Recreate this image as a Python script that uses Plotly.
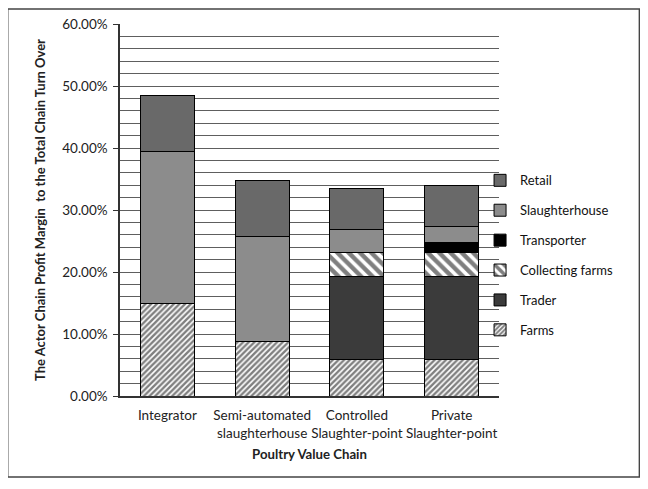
import plotly.graph_objects as go

# poultry value chains on the x axis
chains = ["Integrator", "Semi-automated<br>slaughterhouse",
          "Controlled<br>Slaughter-point", "Private<br>Slaughter-point"]

# profit margin share (%) of each actor, bottom to top of the stack
farms = [15.0, 8.8, 5.9, 5.9]
trader = [0.0, 0.0, 13.35, 13.35]
collecting_farms = [0.0, 0.0, 3.95, 3.95]
transporter = [0.0, 0.0, 0.0, 1.5]
slaughterhouse = [24.4, 16.9, 3.7, 2.7]
retail = [9.1, 9.0, 6.6, 6.6]

y_ticks = [0, 10, 20, 30, 40, 50, 60]

font = "Lato, 'Open Sans', sans-serif"

fig = go.Figure()

def add_bar(name, values, color, rank, pattern=None):
    marker = dict(color=color, line=dict(color="black", width=1))
    if pattern:
        marker["pattern"] = pattern
    fig.add_trace(go.Bar(x=chains, y=values, name=name, marker=marker,
                         legendgroup=name, legendrank=rank))

add_bar("Farms", farms, "white", 6,
        dict(shape="/", fgcolor="black", bgcolor="white", size=4, solidity=0.6))
add_bar("Trader", trader, "#3b3b3b", 5)
add_bar("Collecting farms", collecting_farms, "white", 4,
        dict(shape="\\", fgcolor="black", bgcolor="white", size=8, solidity=0.55))
add_bar("Transporter", transporter, "black", 3)
add_bar("Slaughterhouse", slaughterhouse, "#8c8c8c", 2)
add_bar("Retail", retail, "#696969", 1)

# page body has an 8px margin, so margins are offset by 8px
fig.update_layout(
    width=648, height=489,
    barmode="stack", bargap=0.43,
    plot_bgcolor="white", paper_bgcolor="white",
    margin=dict(l=112, r=157, t=16, b=101),
    font=dict(family=font, size=13, color="#222"),
    showlegend=True,
    legend=dict(traceorder="grouped", tracegroupgap=10,
                x=0.95, y=0.378, xanchor="left", yanchor="middle",
                bgcolor="rgba(0,0,0,0)",
                font=dict(size=13, color="#111"), itemwidth=30),
    xaxis=dict(showline=True, linecolor="#333", linewidth=1.5,
               ticks="outside", ticklen=6, tickcolor="rgba(0,0,0,0)",
               tickangle=0, automargin=False,
               tickfont=dict(size=13.5, color="#222"),
               title=dict(text="<b>Poultry Value Chain</b>",
                          font=dict(size=13.2, color="#222"), standoff=10)),
    yaxis=dict(range=[0, 60], tickvals=y_ticks,
               ticktext=[f"{v:.2f}%" for v in y_ticks],
               showline=True, linecolor="#333", linewidth=1.5,
               ticks="outside", ticklen=5, tickcolor="#333",
               ticklabelstandoff=3, automargin=False,
               tickfont=dict(size=13.5, color="#222"),
               showgrid=True, gridcolor="#5e5e5e", gridwidth=1,
               minor=dict(dtick=2, showgrid=True, gridcolor="#5e5e5e", gridwidth=1),
               title=dict(text="<b>The Actor Chain Profit Margin  to the Total Chain Turn Over</b>",
                          font=dict(size=13, color="#222"), standoff=14)),
)

# outer chart frame
fig.add_shape(type="rect", xref="paper", yref="paper",
              x0=-0.2963, x1=1.3704, y0=-0.2177, y1=1.0403,
              line=dict(color="#444", width=1.5), layer="below")

fig.write_html("out.html")
